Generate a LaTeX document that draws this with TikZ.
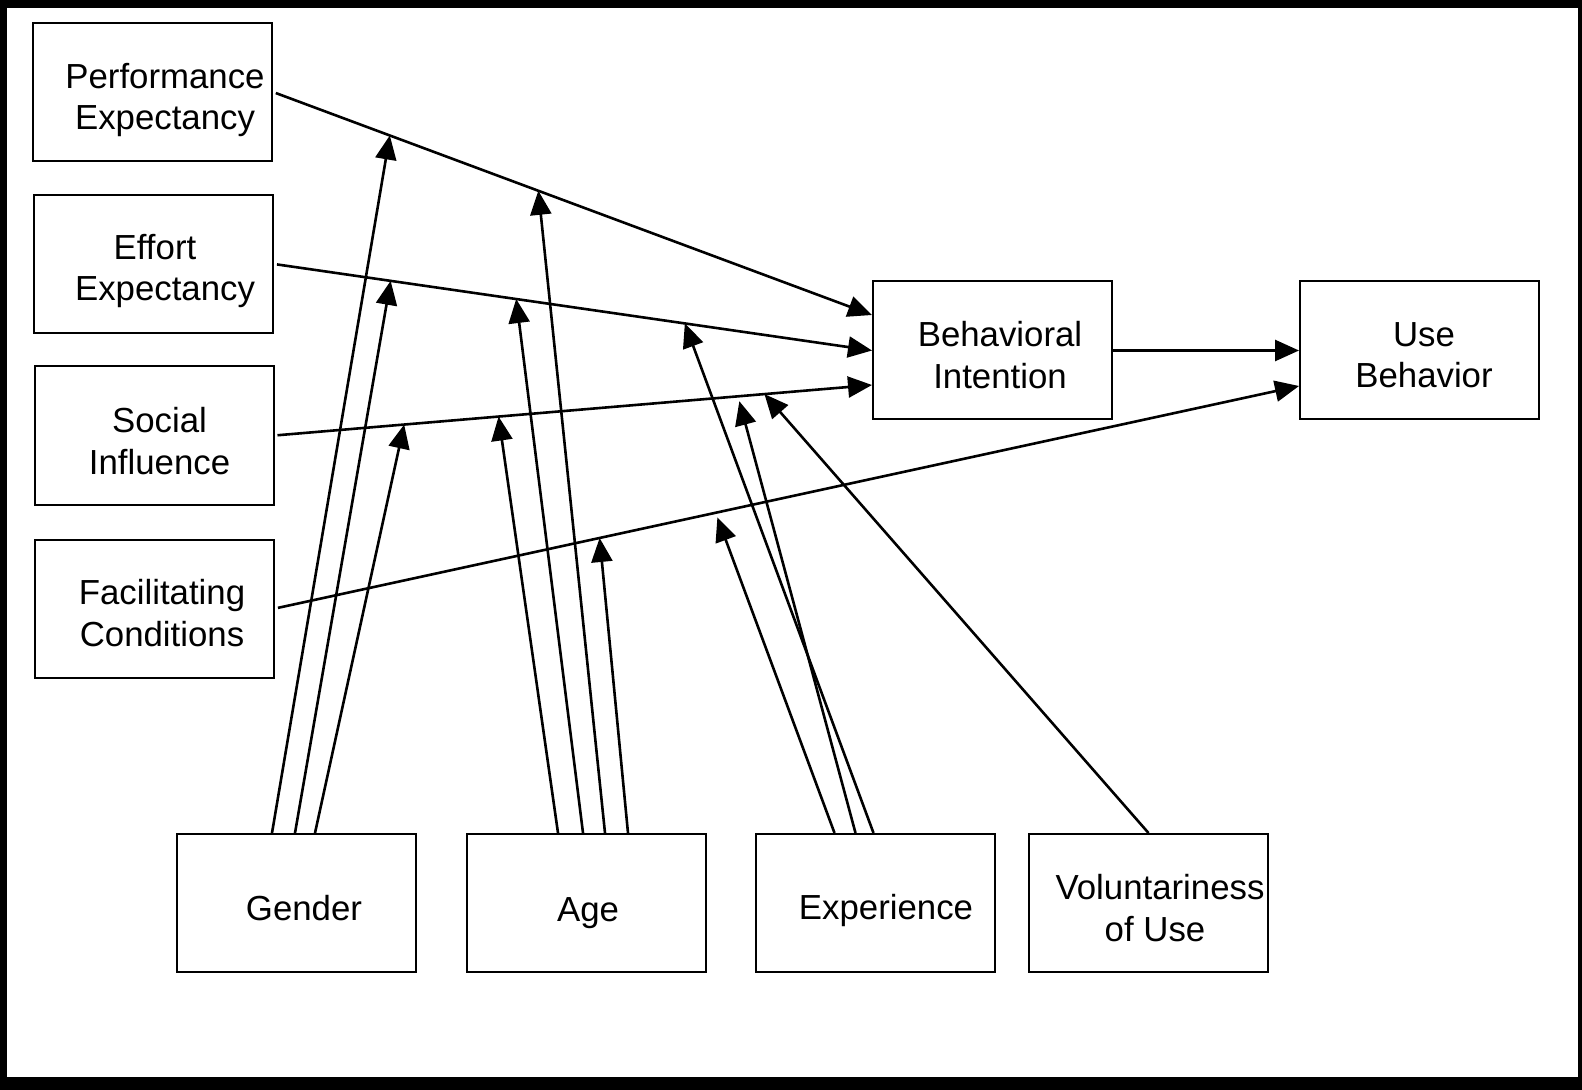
\documentclass[tikz,border=0pt]{standalone}
\usepackage{fontspec}
\setmainfont{Liberation Sans}
\usetikzlibrary{arrows.meta,calc}
\begin{document}
\begin{tikzpicture}[x=0.5pt,y=-0.5pt,
  box/.style={draw,line width=1pt,minimum width=119.5pt,minimum height=69pt,inner sep=0pt},
  lbl/.style={align=center,inner sep=0pt,font=\fontsize{17.4pt}{20.7pt}\selectfont},
  arr/.style={line width=1.3pt,-{Triangle[length=12pt,width=10.5pt]}}
]
\useasboundingbox (0,0) rectangle (1582,1090);
\fill[black] (0,0) rectangle (1582,1090);
\fill[white] (7,8) rectangle (1578,1077);

% boxes
\node[box] (pe) at (152.5,92) {};
\node[box] (ee) at (153.5,264) {};
\node[box] (si) at (154,435.5) {};
\node[box] (fc) at (154.5,608.5) {};
\node[box] (bi) at (992.5,350.5) {};
\node[box] (ub) at (1419.5,350.5) {};
\node[box] (gender) at (296,903) {};
\node[box] (age) at (586,903) {};
\node[box] (exp) at (875.5,903) {};
\node[box] (vol) at (1148.5,903) {};

% labels
\node[lbl] (peL) at (165,100) {Performance\\Expectancy};
\node[lbl] (eeL) at (165,271) {Effort\hspace*{10pt}\\Expectancy};
\node[lbl] (siL) at (159.5,441) {Social\\Influence};
\node[lbl] (fcL) at (162,613) {Facilitating\\Conditions};
\node[lbl] (biL) at (1000,355) {Behavioral\\Intention};
\node[lbl] (ubL) at (1424,355) {Use\\Behavior};
\node[lbl] (genderL) at (304,908) {Gender};
\node[lbl] (ageL) at (588,913) {Age};
\node[lbl] (expL) at (886,910) {Experience};
\node[lbl] (volL) at (1160,908) {Voluntariness\\of Use\hspace*{5pt}};

% main line end points
\coordinate (biPE) at ($(bi.west)+(0,-35.5)$);
\coordinate (biSI) at ($(bi.west)+(0,34.5)$);
\coordinate (ubFC) at ($(ub.west)+(0,35.5)$);

\draw[arr,shorten <=1.5pt] (pe.east) -- (biPE);
\draw[arr,shorten <=1.5pt] (ee.east) -- (bi.west);
\draw[arr,shorten <=1.5pt] (si.east) -- (biSI);
\draw[arr,shorten <=1.5pt] (fc.east) -- (ubFC);
\draw[arr] (bi.east) -- (ub.west);

% moderator targets
\coordinate (tPEg) at ($(pe.east)!0.195!(biPE)$);
\coordinate (tPEa) at ($(pe.east)!0.443!(biPE)$);
\coordinate (tEEg) at ($(ee.east)!0.195!(bi.west)$);
\coordinate (tEEa) at ($(ee.east)!0.405!(bi.west)$);
\coordinate (tEEe) at ($(ee.east)!0.687!(bi.west)$);
\coordinate (tSIg) at ($(si.east)!0.217!(biSI)$);
\coordinate (tSIa) at ($(si.east)!0.375!(biSI)$);
\coordinate (tSIe) at ($(si.east)!0.778!(biSI)+(0,5)$);
\coordinate (tSIv) at ($(si.east)!0.82!(biSI)$);
\coordinate (tFCa) at ($(fc.east)!0.317!(ubFC)$);
\coordinate (tFCe) at ($(fc.east)!0.432!(ubFC)+(0,5)$);

% moderators
\draw[arr] ($(gender.north)+(-24,0)$) -- (tPEg);
\draw[arr] ($(gender.north)+(-1,0)$) -- (tEEg);
\draw[arr] ($(gender.north)+(19,0)$) -- (tSIg);
\draw[arr] ($(age.north)+(-28,0)$) -- (tSIa);
\draw[arr] ($(age.north)+(-3,0)$) -- (tEEa);
\draw[arr] ($(age.north)+(19,0)$) -- (tPEa);
\draw[arr] ($(age.north)+(42,0)$) -- (tFCa);
\draw[arr] ($(exp.north)+(-41,0)$) -- (tFCe);
\draw[arr] ($(exp.north)+(-20,0)$) -- (tSIe);
\draw[arr] ($(exp.north)+(-2,0)$) -- (tEEe);
\draw[arr] (vol.north) -- (tSIv);
\end{tikzpicture}
\end{document}
